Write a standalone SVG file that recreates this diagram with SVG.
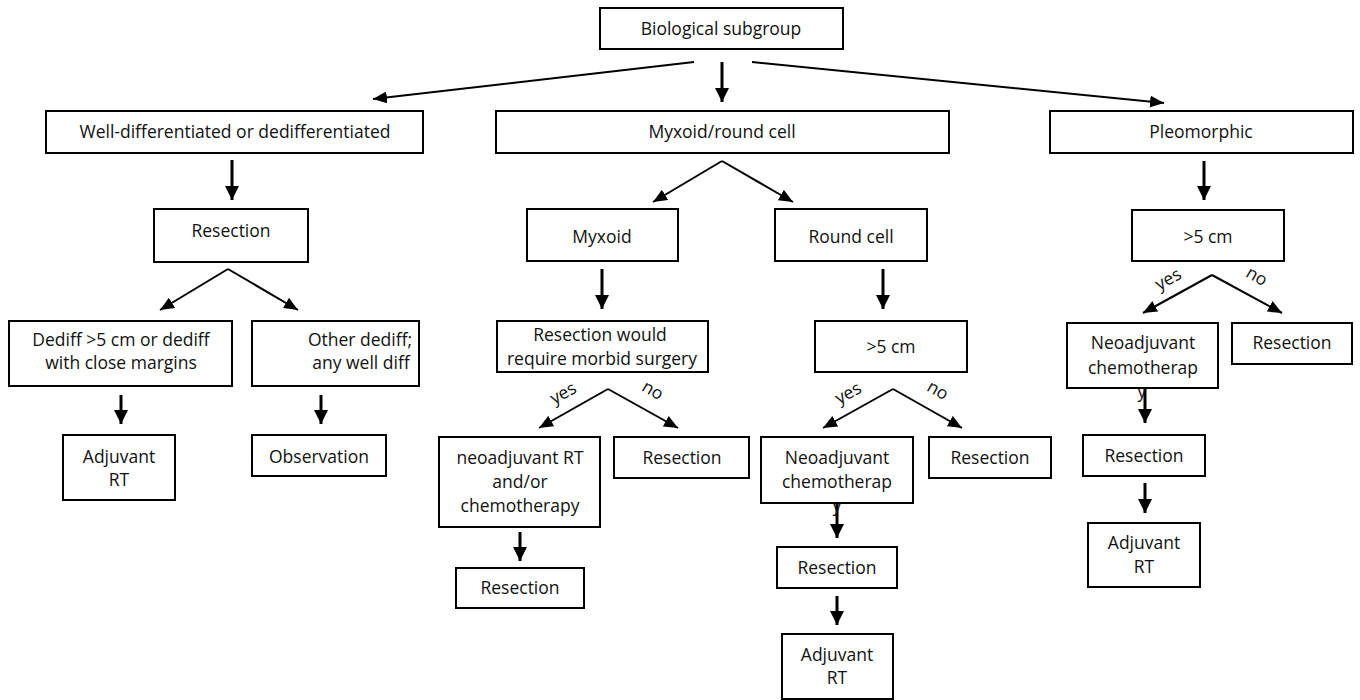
<svg xmlns="http://www.w3.org/2000/svg" width="1360" height="700" viewBox="0 0 1360 700">
<style>
.box{fill:#fff;stroke:#000;stroke-width:2}
text{font-family:"Open Sans","Liberation Sans",sans-serif;font-size:17.5px;fill:#111;text-anchor:middle}
.thin{stroke:#000;stroke-width:2;fill:none;marker-end:url(#ah)}
.thick{stroke:#000;stroke-width:3;fill:none;marker-end:url(#ahb)}
</style>
<defs>
<marker id="ah" markerUnits="userSpaceOnUse" viewBox="0 0 14 12" markerWidth="14" markerHeight="12" refX="14" refY="6" orient="auto"><path d="M0,0 L14,6 L0,12 z" fill="#000"/></marker>
<marker id="ahb" markerUnits="userSpaceOnUse" viewBox="0 0 14 14" markerWidth="14" markerHeight="14" refX="14" refY="7" orient="auto"><path d="M0,0 L14,7 L0,14 z" fill="#000"/></marker>
</defs>
<rect width="1360" height="700" fill="#fff"/>

<g id="connectors">
<line class="thin" x1="694" y1="62" x2="373" y2="99"/>
<line class="thick" x1="722" y1="62" x2="722" y2="102"/>
<line class="thin" x1="752" y1="62" x2="1164" y2="103"/>
<line class="thick" x1="232" y1="160" x2="232" y2="200"/>
<polyline class="thin" points="228,269 160,310"/>
<polyline class="thin" points="228,269 298,310"/>
<line class="thick" x1="121" y1="395" x2="121" y2="424"/>
<line class="thick" x1="321" y1="395" x2="321" y2="424"/>
<polyline class="thin" points="722,161 653,202"/>
<polyline class="thin" points="722,161 793,202"/>
<line class="thick" x1="602" y1="269" x2="602" y2="309"/>
<polyline class="thin" points="608,389 539,428"/>
<polyline class="thin" points="608,389 678,428"/>
<line class="thick" x1="520" y1="532" x2="520" y2="561"/>
<line class="thick" x1="883" y1="269" x2="883" y2="309"/>
<polyline class="thin" points="893,389 823,428"/>
<polyline class="thin" points="893,389 962,428"/>
<line class="thick" x1="837" y1="503" x2="837" y2="538"/>
<line class="thick" x1="837" y1="596" x2="837" y2="625"/>
<line class="thick" x1="1204" y1="161" x2="1204" y2="200"/>
<polyline class="thin" points="1212,275 1143,313"/>
<polyline class="thin" points="1212,275 1282,313"/>
<line class="thick" x1="1145" y1="388" x2="1145" y2="423"/>
<line class="thick" x1="1145" y1="483" x2="1145" y2="513"/>
<text x="563" y="399" transform="rotate(-29 563 393)">yes</text>
<text x="653" y="396" transform="rotate(30 653 390)">no</text>
<text x="848" y="399" transform="rotate(-29 848 393)">yes</text>
<text x="938" y="396" transform="rotate(30 938 390)">no</text>
<text x="1168" y="285" transform="rotate(-29 1168 279)">yes</text>
<text x="1257" y="282" transform="rotate(30 1257 276)">no</text>
</g>

<g id="n-bio"><rect class="box" x="600" y="8" width="243" height="41"/><text x="721" y="35">Biological subgroup</text></g>
<g id="n-well"><rect class="box" x="46" y="111" width="377" height="42"/><text x="235" y="138">Well-differentiated or dedifferentiated</text></g>
<g id="n-myxround"><rect class="box" x="496" y="111" width="453" height="42"/><text x="722" y="138">Myxoid/round cell</text></g>
<g id="n-pleo"><rect class="box" x="1050" y="111" width="303" height="42"/><text x="1201" y="138">Pleomorphic</text></g>

<g id="n-res1"><rect class="box" x="154" y="209" width="154" height="53"/><text x="231" y="237">Resection</text></g>
<g id="n-dediff"><rect class="box" x="9" y="321" width="223" height="65"/><text x="121" y="346">Dediff &gt;5 cm or dediff</text><text x="121" y="369">with close margins</text></g>
<g id="n-other"><rect class="box" x="252" y="321" width="167" height="65"/><text x="360" y="346">Other dediff;</text><text x="361" y="369">any well diff</text></g>
<g id="n-adj1"><rect class="box" x="63" y="435" width="112" height="65"/><text x="119" y="463">Adjuvant</text><text x="119" y="486">RT</text></g>
<g id="n-obs"><rect class="box" x="252" y="435" width="134" height="41"/><text x="319" y="463">Observation</text></g>

<g id="n-myxoid"><rect class="box" x="527" y="209" width="151" height="52"/><text x="602" y="243">Myxoid</text></g>
<g id="n-round"><rect class="box" x="775" y="209" width="152" height="52"/><text x="851" y="243">Round cell</text></g>
<g id="n-morbid"><rect class="box" x="497" y="321" width="211" height="51"/><text x="600" y="341">Resection would</text><text x="602" y="365">require morbid surgery</text></g>
<g id="n-neoRT"><rect class="box" x="439" y="437" width="161" height="90"/><text x="520" y="464">neoadjuvant RT</text><text x="520" y="488">and/or</text><text x="520" y="512">chemotherapy</text></g>
<g id="n-res2"><rect class="box" x="614" y="437" width="135" height="41"/><text x="682" y="464">Resection</text></g>
<g id="n-res3"><rect class="box" x="456" y="568" width="128" height="40"/><text x="520" y="594">Resection</text></g>

<g id="n-gt5a"><rect class="box" x="815" y="321" width="152" height="51"/><text x="891" y="353">&gt;5 cm</text></g>
<g id="n-neoA"><rect class="box" x="761" y="437" width="152" height="66"/><text x="837" y="464">Neoadjuvant</text><text x="837" y="488">chemotherap</text></g>
<g id="n-res4"><rect class="box" x="929" y="437" width="122" height="41"/><text x="990" y="464">Resection</text></g>
<g id="n-res5"><rect class="box" x="777" y="547" width="120" height="41"/><text x="837" y="574">Resection</text></g>
<g id="n-adj2"><rect class="box" x="782" y="634" width="111" height="65"/><text x="837" y="661">Adjuvant</text><text x="837" y="684">RT</text></g>

<g id="n-gt5b"><rect class="box" x="1132" y="210" width="152" height="51"/><text x="1208" y="243">&gt;5 cm</text></g>
<g id="n-neoB"><rect class="box" x="1067" y="323" width="151" height="65"/><text x="1143" y="349">Neoadjuvant</text><text x="1143" y="374">chemotherap</text></g>
<g id="n-res6"><rect class="box" x="1232" y="323" width="120" height="41"/><text x="1292" y="349">Resection</text></g>
<g id="n-res7"><rect class="box" x="1083" y="435" width="122" height="41"/><text x="1144" y="462">Resection</text></g>
<g id="n-adj3"><rect class="box" x="1088" y="523" width="112" height="64"/><text x="1144" y="549">Adjuvant</text><text x="1144" y="573">RT</text></g>

<text x="837" y="512" font-size="14" fill="#444">y</text>
<text x="1142" y="398" font-size="14" fill="#444">y</text>
</svg>
